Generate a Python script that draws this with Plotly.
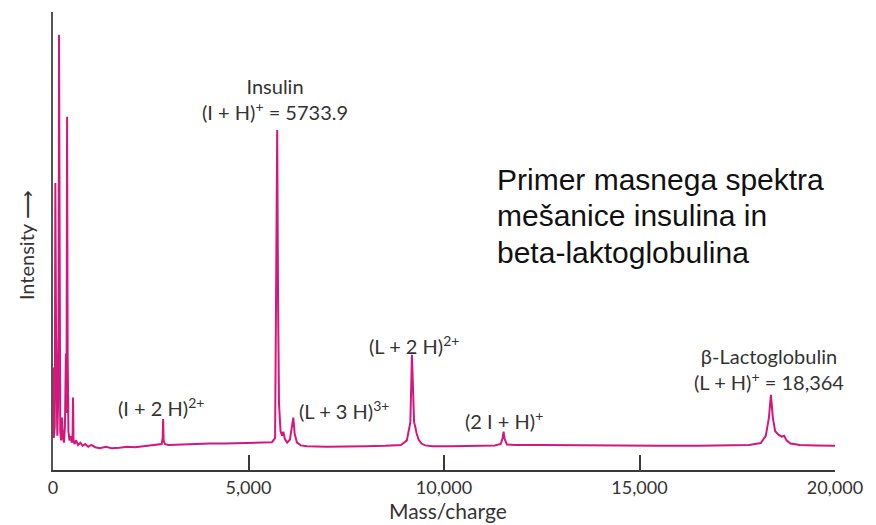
import plotly.graph_objects as go

# spectrum: mass/charge and relative intensity (0-100)
mass_charge = [
    0, 20, 45, 60, 77, 90, 110, 130, 145, 154, 165, 185, 205, 230, 255, 280,
    305, 330, 345, 360, 375, 395, 420, 450, 480, 500, 512, 525, 550, 590,
    640, 700, 760, 820, 900, 980, 1080, 1200, 1350, 1500, 1700, 1900, 2100,
    2300, 2500, 2700, 2780, 2805, 2817, 2830, 2860, 2950, 3200, 3600, 4000,
    4400, 4800, 5200, 5600, 5680, 5710, 5734, 5755, 5780, 5820, 5860, 5890,
    5930, 5990, 6060, 6110, 6146, 6180, 6240, 6340, 6500, 7000, 7500, 8000,
    8500, 8900, 9050, 9140, 9180, 9205, 9235, 9265, 9300, 9350, 9420, 9520,
    9700, 10200, 10800, 11300, 11450, 11500, 11524, 11550, 11610, 11800,
    12500, 13500, 14500, 15500, 16500, 17200, 17800, 18100, 18230, 18310,
    18361, 18410, 18470, 18560, 18640, 18700, 18760, 18860, 19100, 19500,
    19800, 20000,
]
intensity = [
    22.0, 6.5, 9.0, 62.5, 30.0, 11.0, 7.0, 14.0, 40.0, 95.0, 22.0, 8.0,
    6.0, 11.0, 6.5, 5.5, 9.0, 25.0, 12.0, 77.0, 25.0, 8.0, 6.0, 7.0, 5.5,
    6.0, 15.4, 6.0, 5.2, 6.0, 5.0, 5.5, 4.8, 5.2, 4.6, 5.0, 4.5, 4.3, 4.6,
    4.3, 4.4, 4.6, 4.5, 4.7, 4.8, 5.0, 5.2, 6.5, 10.7, 6.0, 5.2, 5.0, 5.1,
    5.2, 5.3, 5.3, 5.4, 5.5, 5.6, 6.5, 35.0, 74.1, 38.0, 14.0, 8.0, 7.0,
    7.9, 6.3, 5.5, 6.2, 9.0, 11.0, 7.5, 5.5, 4.9, 4.7, 4.6, 4.6, 4.7, 4.8,
    5.0, 6.0, 10.0, 24.8, 15.0, 10.0, 9.0, 7.5, 6.2, 5.3, 4.9, 4.7, 4.7,
    4.8, 4.9, 5.2, 6.5, 7.9, 6.3, 5.1, 5.0, 5.0, 4.9, 4.9, 4.8, 4.8, 4.9,
    5.0, 5.4, 7.0, 11.0, 16.0, 11.0, 8.0, 7.2, 6.8, 7.0, 6.0, 5.3, 5.0,
    4.9, 4.8, 4.8,
]

x_ticks = [0, 5000, 10000, 15000, 20000]
note_lines = ["Primer masnega spektra", "mešanice insulina in", "beta-laktoglobulina"]

LINE_COLOR = "#d4177c"
AXIS_COLOR = "#3a3a3a"
TEXT_COLOR = "#333333"
HUMANIST = "Lato, Open Sans, sans-serif"
LABEL_FONT = dict(family=HUMANIST, size=20, color=TEXT_COLOR)

fig = go.Figure()
fig.add_trace(go.Scatter(
    x=mass_charge,
    y=intensity,
    mode="lines",
    line=dict(color=LINE_COLOR, width=2),
    hovertemplate="m/z %{x}<br>Intensity %{y}<extra></extra>",
    showlegend=False,
))

peak_labels = [
    dict(x=5690, y=81.0, text="Insulin<br>(I + H)<sup>+</sup> = 5733.9", xanchor="center"),
    dict(x=2762, y=13.3, text="(I + 2 H)<sup>2+</sup>", xanchor="center"),
    dict(x=6240, y=12.7, text="(L + 3 H)<sup>3+</sup>", xanchor="left"),
    dict(x=9233, y=26.9, text="(L + 2 H)<sup>2+</sup>", xanchor="center"),
    dict(x=11535, y=10.5, text="(2 I + H)<sup>+</sup>", xanchor="center"),
    dict(x=18300, y=21.7, text="β-Lactoglobulin<br>(L + H)<sup>+</sup> = 18,364", xanchor="center"),
]
annotations = []
for lab in peak_labels:
    annotations.append(dict(
        x=lab["x"], y=lab["y"], xref="x", yref="y", text=lab["text"],
        xanchor=lab["xanchor"], yanchor="middle", showarrow=False,
        font=LABEL_FONT,
    ))

for i, line in enumerate(note_lines):
    annotations.append(dict(
        x=11304, y=63.3 - i * 8.0, xref="x", yref="y", text=line,
        xanchor="left", yanchor="middle", showarrow=False,
        font=dict(family="Liberation Sans, Arial, sans-serif", size=30, color="#111111"),
    ))

# axis titles
annotations.append(dict(
    x=0, y=0.491, xref="paper", yref="paper", xshift=-27, text="Intensity ⟶",
    textangle=-90, showarrow=False, xanchor="center", yanchor="middle",
    font=LABEL_FONT,
))
annotations.append(dict(
    x=0.505, y=0, xref="paper", yref="paper", yshift=-40, text="Mass/charge",
    showarrow=False, xanchor="center", yanchor="middle",
    font=dict(family=HUMANIST, size=21, color=TEXT_COLOR),
))

# the page body adds an 8px offset, so the margins are shifted to compensate
fig.update_layout(
    width=876,
    height=525,
    margin=dict(l=45, r=49, t=4, b=63),
    paper_bgcolor="white",
    plot_bgcolor="white",
    annotations=annotations,
    xaxis=dict(
        range=[0, 20000],
        tickvals=x_ticks,
        tickformat=",",
        ticks="inside",
        ticklen=15,
        tickwidth=1.5,
        tickcolor=AXIS_COLOR,
        showline=True,
        linecolor=AXIS_COLOR,
        linewidth=2,
        showgrid=False,
        zeroline=False,
        automargin=False,
        tickfont=dict(family=HUMANIST, size=18, color=TEXT_COLOR),
    ),
    yaxis=dict(
        range=[-0.5, 100],
        showline=True,
        linecolor="#555555",
        linewidth=2,
        showgrid=False,
        zeroline=False,
        showticklabels=False,
        ticks="",
        automargin=False,
    ),
)

fig.write_html("out.html")
